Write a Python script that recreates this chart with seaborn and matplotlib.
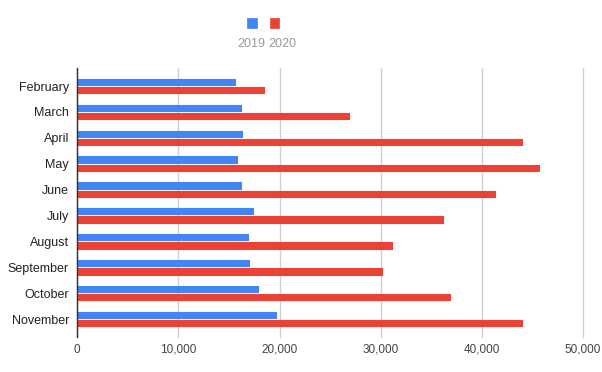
import matplotlib
matplotlib.use("Agg")
import matplotlib.pyplot as plt
import seaborn as sns
import pandas as pd
from matplotlib.patches import Rectangle

months = ["February", "March", "April", "May", "June", "July", "August",
          "September", "October", "November"]
values_2019 = [15600, 16150, 16250, 15800, 16200, 17350, 16850, 16950, 17900, 19650]
values_2020 = [18500, 26900, 43950, 45650, 41300, 36150, 31100, 30100, 36850, 43950]
series = ["2019", "2020"]
colors = ["#4285F4", "#EA4335"]
xticks = [0, 10000, 20000, 30000, 40000, 50000]

df = pd.DataFrame({
    "month": months * 2,
    "value": values_2019 + values_2020,
    "year": [series[0]] * len(months) + [series[1]] * len(months),
})

sns.set_theme(style="white")
plt.rcParams["font.family"] = ["Liberation Sans", "DejaVu Sans"]

fig = plt.figure(figsize=(6.02, 3.72), dpi=100)
ax = fig.add_axes([0.1284, 0.0949, 0.8400, 0.7223])

sns.barplot(data=df, y="month", x="value", hue="year", order=months,
            hue_order=series, palette=colors, orient="h", width=0.64,
            gap=0.24, ax=ax, legend=False, saturation=1)

for p in ax.patches:
    p.set_edgecolor(p.get_facecolor())
    p.set_linewidth(0.8)
    p.set_joinstyle("round")

ax.set_xlim(0, 50000)
ax.set_ylim(9.68, -0.695)
ax.set_xticks(xticks)
ax.set_xticklabels([f"{v:,}" for v in xticks], fontsize=8.5, color="#444444")
ax.tick_params(axis="y", labelsize=9, labelcolor="#222222", length=0, pad=6)
ax.tick_params(axis="x", length=0, pad=5)
ax.set_xlabel("")
ax.set_ylabel("")
ax.grid(axis="x", color="#d0d0d0", linewidth=1)
for gl in ax.xaxis.get_gridlines():
    gl.set_clip_on(False)
ax.set_axisbelow(True)
for s in ["top", "right", "bottom"]:
    ax.spines[s].set_visible(False)
ax.spines["left"].set_color("#333333")
ax.spines["left"].set_linewidth(1)
ax.spines["left"].set_zorder(5)

# legend: squares above labels
W, H = 602, 372
sq = 9.5
for cx, c in zip([252, 274.3], colors):
    fig.patches.append(Rectangle(((cx - sq / 2) / W, 1 - (23 + sq / 2) / H), sq / W, sq / H,
                                 transform=fig.transFigure, facecolor=c,
                                 edgecolor=c, linewidth=0.5, joinstyle="round"))
for cx, lab in zip([251.7, 282.7], series):
    fig.text(cx / W, 1 - 44.3 / H, lab, ha="center", va="center",
             fontsize=9, color="#9a9a9a")

fig.savefig("out.png", dpi=100)
